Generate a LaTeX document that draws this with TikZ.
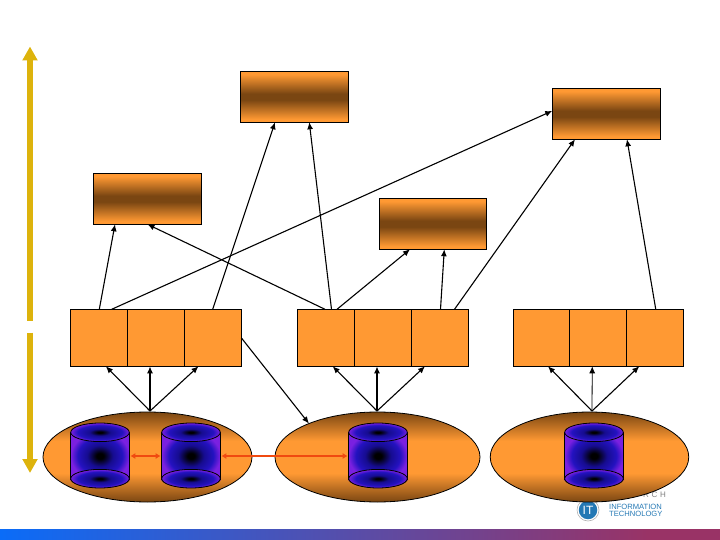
\documentclass[tikz,border=0pt]{standalone}
\usepackage{xcolor}
\usepackage{fontspec}
\newfontfamily\logofont{Liberation Sans}
\definecolor{colBox}{HTML}{FF9933}
\definecolor{colBrown}{HTML}{7A4612}
\definecolor{colDisc}{HTML}{7A20E0}
\definecolor{colDiscMid}{HTML}{2412C0}
\definecolor{colDiscDark}{HTML}{160C90}
\definecolor{colGold}{HTML}{DDB30C}
\definecolor{colLink}{HTML}{F04A10}
\definecolor{colLogo}{HTML}{2478B4}
\definecolor{colBandL}{HTML}{0A6CF8}
\definecolor{colBandR}{HTML}{993366}
\pgfdeclareverticalshading{siteshade}{100bp}{color(0bp)=(colBox); color(28bp)=(colBox); color(47bp)=(colBrown); color(53bp)=(colBrown); color(72bp)=(colBox); color(100bp)=(colBox)}
\pgfdeclareverticalshading{plateshade}{100bp}{color(0bp)=(colBrown); color(25bp)=(colBrown); color(41bp)=(colBox); color(59bp)=(colBox); color(75bp)=(colBrown); color(100bp)=(colBrown)}
\pgfdeclarehorizontalshading{bandshade}{100bp}{color(0bp)=(colBandL); color(25bp)=(colBandL); color(70bp)=(colBandR); color(100bp)=(colBandR)}
\pgfdeclareradialshading{discshade}{\pgfpointorigin}{color(0bp)=(black); color(2bp)=(black); color(9bp)=(colDiscDark); color(19bp)=(colDiscMid); color(25bp)=(colDisc); color(50bp)=(colDisc)}
\pgfdeclareradialshading{bodyshade}{\pgfpointorigin}{color(0bp)=(black); color(3bp)=(black); color(11bp)=(colDiscDark); color(19bp)=(colDiscMid); color(25bp)=(colDisc); color(50bp)=(colDisc)}
\usetikzlibrary{arrows.meta, positioning, shapes.geometric}
\tikzset{
	sitebox/.style={draw, line width=0.8pt, shade, shading=siteshade, inner sep=0pt, outer sep=0pt, minimum width=108.4pt, minimum height=51pt},
	rowbox/.style={draw, line width=0.8pt, fill=colBox, inner sep=0pt, outer sep=0pt, minimum width=57pt, minimum height=57pt},
	plate/.style={ellipse, draw, line width=0.8pt, shade, shading=plateshade, inner sep=0pt, outer sep=0pt, minimum height=90pt},
	discbody/.style={shade, shading=bodyshade, inner sep=0pt, outer sep=0pt, minimum width=58.6pt, minimum height=48pt},
	disccap/.style={ellipse, draw, line width=0.8pt, shade, shading=discshade, inner sep=0pt, outer sep=0pt, minimum width=58.6pt, minimum height=18.6pt},
	link/.style={-{Latex[length=7pt,width=6pt]}, line width=1.1pt},
	redlink/.style={{Latex[length=5pt,width=6pt]}-{Latex[length=5pt,width=6pt]}, line width=1.6pt, colLink},
	goldline/.style={-{Triangle[length=14pt,width=14.5pt]}, line width=6.5pt, colGold}
}
\begin{document}
\begin{tikzpicture}[x=1pt,y=-1pt]
	\useasboundingbox (0,0) rectangle (720,540);
	\node[minimum width=720pt, minimum height=11pt, inner sep=0pt, outer sep=0pt, shade, shading=bandshade] (band) at (360,534.5) {};
	\node[font=\logofont\fontsize{8}{8}\selectfont, text=gray, anchor=east, inner sep=0pt] (research) at (666,495) {R\,\,C\,\,H};
	\node[circle, draw=gray!60, line width=0.6pt, fill=white, minimum size=22pt, inner sep=0pt] (ring) at (588,510) {};
	\node[circle, fill=colLogo, minimum size=18.5pt, inner sep=0pt, font=\logofont\fontsize{12}{12}\selectfont, text=white] (itmark) at (588,510) {IT};
	\node[font=\logofont\fontsize{7.6}{7.6}\selectfont, text=colLogo, anchor=west, inner sep=0pt] (info) at (609,507) {INFORMATION};
	\node[font=\logofont\fontsize{7.6}{7.6}\selectfont, text=colLogo, anchor=west, inner sep=0pt] (tech) at (609,514) {TECHNOLOGY};

	\coordinate (upbot) at (30,320.5);
	\coordinate (uptop) at (30,46.5);
	\coordinate (downtop) at (30,332.5);
	\coordinate (downbot) at (30,473);
	\draw[goldline] (upbot) -- (uptop);
	\draw[goldline] (downtop) -- (downbot);

	\node[sitebox] (siteA) at (147.5,198.8) {};
	\node[sitebox] (siteB) at (294.5,96.8) {};
	\node[sitebox, minimum width=107.4pt] (siteC) at (433,223.8) {};
	\node[sitebox] (siteD) at (606.5,113.8) {};

	\node[rowbox] (a1) at (98.8,337.8) {};
	\node[rowbox, right=0pt of a1] (a2) {};
	\node[rowbox, right=0pt of a2] (a3) {};
	\node[rowbox] (b1) at (325.8,337.8) {};
	\node[rowbox, right=0pt of b1] (b2) {};
	\node[rowbox, right=0pt of b2] (b3) {};
	\node[rowbox, minimum width=56.5pt] (c1) at (541.5,337.8) {};
	\node[rowbox, right=0pt of c1] (c2) {};
	\node[rowbox, right=0pt of c2] (c3) {};

	\node[plate, minimum width=209pt] (plateA) at (147.5,457) {};
	\node[plate, minimum width=205pt] (plateB) at (377.5,457) {};
	\node[plate, minimum width=198.5pt] (plateC) at (589.5,457) {};

	\foreach \cx/\cn in {100/A, 191/B, 378/C, 594/D} {
		\node[discbody] (body\cn) at (\cx,456) {};
		\draw[line width=0.8pt] (body\cn.north west) -- (body\cn.south west);
		\draw[line width=0.8pt] (body\cn.north east) -- (body\cn.south east);
		\node[disccap] (top\cn) at (\cx,432.3) {};
		\node[disccap] (bot\cn) at (\cx,478.7) {};
	}

	\draw[redlink] ([xshift=1pt]bodyA.east) -- ([xshift=-1pt]bodyB.west);
	\draw[redlink] ([xshift=1pt]bodyB.east) -- ([xshift=-1pt]bodyC.west);

	\draw[link] ([xshift=.5pt]a1.north) -- ([xshift=-32.5pt]siteA.south);
	\draw[link] ([xshift=12.9pt]a1.north) -- ([yshift=2.9pt]siteD.west);
	\draw[link] ([xshift=-.1pt]a3.north) -- ([xshift=-19.5pt]siteB.south);
	\draw[link] ([xshift=-.8pt]b1.north) -- (siteA.south);
	\draw[link] ([xshift=5.7pt]b1.north) -- ([xshift=14.8pt]siteB.south);
	\draw[link] ([xshift=11.2pt]b1.north) -- ([xshift=-23pt]siteC.south);
	\draw[link] ([xshift=.7pt]b3.north) -- ([xshift=11.3pt]siteC.south);
	\draw[link] ([xshift=14.7pt]b3.north) -- ([xshift=-31.5pt]siteD.south);
	\draw[link] ([xshift=.5pt]c3.north) -- ([xshift=20.5pt]siteD.south);

	\draw[link] (a3.east) -- (plateB.154.6);

	\coordinate (hubA) at (150,411);
	\coordinate (hubB) at (377,411);
	\coordinate (hubC) at (592,411);
	\draw[link] (hubA) -- ([xshift=7pt]a1.south);
	\draw[link, line width=1.5pt] (hubA) -- ([xshift=-5.8pt]a2.south);
	\draw[link] (hubA) -- ([xshift=-14.3pt]a3.south);
	\draw[link] (hubB) -- ([xshift=6.9pt]b1.south);
	\draw[link, line width=1.5pt] (hubB) -- ([xshift=-5.8pt]b2.south);
	\draw[link] (hubB) -- ([xshift=-14.8pt]b3.south);
	\draw[link] (hubC) -- ([xshift=6.5pt]c1.south);
	\draw[link, line width=0.8pt] (hubC) -- ([xshift=-6pt]c2.south);
	\draw[link] (hubC) -- ([xshift=-16pt]c3.south);
\end{tikzpicture}
\end{document}
